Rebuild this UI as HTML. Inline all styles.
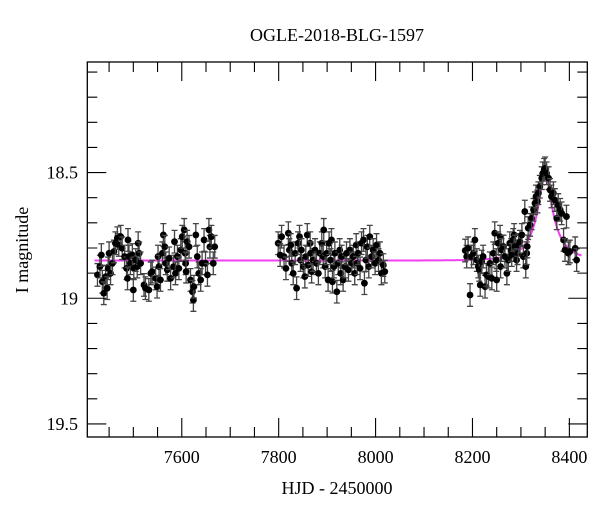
<!DOCTYPE html>
<html><head><meta charset="utf-8"><style>
html,body{margin:0;padding:0;background:#fff;}
svg{display:block;font-family:"Liberation Serif","DejaVu Serif",serif;}
</style></head><body>
<svg id="chart" width="600" height="512" viewBox="0 0 600 512" xmlns="http://www.w3.org/2000/svg">
<rect x="0" y="0" width="600" height="512" fill="#fff"/>
<text x="337" y="41" font-size="18" text-anchor="middle">OGLE-2018-BLG-1597</text>
<text x="337" y="494" font-size="18" text-anchor="middle">HJD - 2450000</text>
<text x="0" y="0" font-size="18" text-anchor="middle" transform="translate(28,250) rotate(-90)">I magnitude</text>
<g id="model"></g>
<g id="pts"></g>
<g id="axes"></g>
</svg>
<script>
const times = [7426,7431,7434,7436,7439,7443,7446,7448,7450,7453,7457,7460,7463,7467,7470,7474,7477,7482,7486,7488,7489,7491,7494,7498,7500,7501,7505,7508,7510,7512,7515,7522,7525,7532,7536,7539,7546,7549,7551,7553,7556,7560,7562,7565,7567,7570,7574,7577,7583,7585,7587,7591,7594,7598,7601,7605,7607,7608,7609,7611,7615,7618,7622,7624,7625,7629,7632,7635,7639,7642,7646,7649,7653,7656,7658,7661,7665,7668,
7799,7803,7806,7811,7815,7820,7822,7825,7827,7830,7834,7837,7840,7843,7845,7847,7851,7854,7856,7859,7861,7865,7866,7868,7871,7875,7878,7882,7885,7889,7892,7893,7896,7899,7902,7904,7907,7909,7911,7914,7916,7920,7923,7926,7928,7930,7933,7937,7940,7944,7947,7951,7954,7957,7960,7962,7964,7968,7971,7975,7977,7980,7983,7986,7988,7992,7995,7999,8002,8006,8009,8012,8016,8019,
8185,8188,8191,8195,8198,8202,8205,8209,8212,8214,8216,8219,8222,8226,8229,8233,8236,8240,8243,8246,8249,8250,8253,8257,8258,8260,8264,8267,8271,8274,8277,8280,8281,8284,8286,8288,8291,8293,8295,8298,8302,8305,8308,8310,8312,8313,8315,8319,8322,8326,8329,8331,8334,8336,8339,8343,8345,8348,8350,8353,8357,8360,8363,8367,8370,8374,8377,8381,8384,8388,8391,8394,8398,8401,8412,8415];
const mags = [18.907,18.874,18.828,18.934,18.980,18.914,18.960,18.881,18.821,18.901,18.861,18.814,18.781,18.761,18.788,18.755,18.801,18.834,18.881,18.921,18.768,18.834,18.861,18.828,18.967,18.881,18.848,18.874,18.781,18.821,18.861,18.947,18.960,18.967,18.901,18.894,18.921,18.954,18.834,18.874,18.927,18.821,18.748,18.795,18.861,18.887,18.841,18.921,18.874,18.775,18.901,18.834,18.881,18.808,18.755,18.728,18.821,18.861,18.894,18.775,18.795,18.927,18.974,19.007,18.954,18.748,18.834,18.901,18.927,18.861,18.768,18.861,18.907,18.728,18.795,18.755,18.861,18.795,
18.781,18.828,18.755,18.834,18.881,18.741,18.808,18.788,18.861,18.901,18.821,18.960,18.781,18.755,18.848,18.808,18.874,18.914,18.834,18.748,18.868,18.781,18.821,18.894,18.848,18.808,18.861,18.901,18.821,18.781,18.834,18.728,18.874,18.821,18.927,18.781,18.848,18.768,18.934,18.874,18.821,18.974,18.861,18.808,18.901,18.834,18.927,18.874,18.821,18.887,18.808,18.861,18.834,18.901,18.788,18.861,18.821,18.881,18.781,18.768,18.940,18.848,18.795,18.874,18.755,18.834,18.808,18.861,18.788,18.848,18.821,18.901,18.868,18.894,
18.810,18.834,18.801,18.987,18.834,18.821,18.768,18.848,18.874,18.887,18.947,18.854,18.834,18.954,18.907,18.914,18.861,18.921,18.821,18.741,18.848,18.927,18.781,18.755,18.874,18.808,18.794,18.834,18.901,18.848,18.781,18.808,18.828,18.768,18.748,18.794,18.848,18.821,18.788,18.775,18.748,18.834,18.655,18.874,18.821,18.794,18.721,18.708,18.682,18.648,18.622,18.595,18.615,18.582,18.556,18.522,18.503,18.489,18.483,18.503,18.522,18.569,18.595,18.582,18.609,18.682,18.629,18.648,18.662,18.768,18.808,18.675,18.821,18.814,18.801,18.848];
const errMag = 0.045;
const xMajorTicks = [7600,7800,8000,8200,8400];
const yMajorTicks = [18.5,19,19.5];
const yTickLabels = ["18.5","19","19.5"];
const modelParams = [8350, 0.215, 58, 0.1, 18.85]; // t0, u0, tE, fs, baseline

const L=87.3,R=587.3,T=62,B=437;
const X0=7405,X1=8437,Y0=18.06,Y1=19.552;
const sx=t=>L+(t-X0)/(X1-X0)*(R-L);
const sy=m=>T+(m-Y0)/(Y1-Y0)*(B-T);
const NS="http://www.w3.org/2000/svg";
function mk(tag,attrs,parent){const e=document.createElementNS(NS,tag);for(const k in attrs)e.setAttribute(k,attrs[k]);parent.appendChild(e);return e;}

const [t0,u0,tE,fs,base]=modelParams;
let d="";
for(let t=7420;t<=8425;t+=1){
  const tau=(t-t0)/tE;const u=Math.sqrt(u0*u0+tau*tau);
  const A=(u*u+2)/(u*Math.sqrt(u*u+4));
  const m=base-2.5*Math.log10(fs*A+1-fs);
  d+=(d?"L":"M")+sx(t).toFixed(2)+","+sy(m).toFixed(2);
}
const mp=mk("path",{d:d,fill:"none",stroke:"#f040f0","stroke-width":"2"},document.getElementById("model"));



const pg=document.getElementById("pts");
for(let i=0;i<times.length;i++){
  const x=sx(times[i]),y=sy(mags[i]),y1=sy(mags[i]-errMag),y2=sy(mags[i]+errMag);
  const g=mk("g",{},pg);
  
  
  mk("path",{d:`M${x},${y1}V${y2}M${x-3},${y1}H${x+3}M${x-3},${y2}H${x+3}`,stroke:"#444","stroke-width":"1.3",fill:"none"},g);
  mk("circle",{cx:x,cy:y,r:3.4,fill:"#000"},g);
}

const ax=document.getElementById("axes");
const fr=mk("rect",{x:L,y:T,width:R-L,height:B-T,fill:"none",stroke:"#000","stroke-width":"1.3"},ax);


let tk="";
for(let t=7450;t<=8400;t+=50){
  const x=sx(t);const maj=t%200===0;const len=maj?19:10;
  tk+=`M${x},${B}V${B-len}M${x},${T}V${T+len}`;
}
for(let k=0;k<=14;k++){
  const m=18.1+k*0.1;const y=sy(m);const maj=Math.abs(m*2-Math.round(m*2))<1e-6;const len=maj?19:10;
  tk+=`M${L},${y}H${L+len}M${R},${y}H${R-len}`;
}
const tp=mk("path",{d:tk,stroke:"#000","stroke-width":"1.1",fill:"none"},ax);


xMajorTicks.forEach(t=>{
  const e=mk("text",{x:sx(t),y:463,"font-size":"18","text-anchor":"middle"},ax);e.textContent=String(t);
  
  
});
yMajorTicks.forEach((m,i)=>{
  const e=mk("text",{x:78,y:sy(m)+6,"font-size":"18","text-anchor":"end"},ax);e.textContent=yTickLabels[i];
  
  
});
</script>
</body></html>
